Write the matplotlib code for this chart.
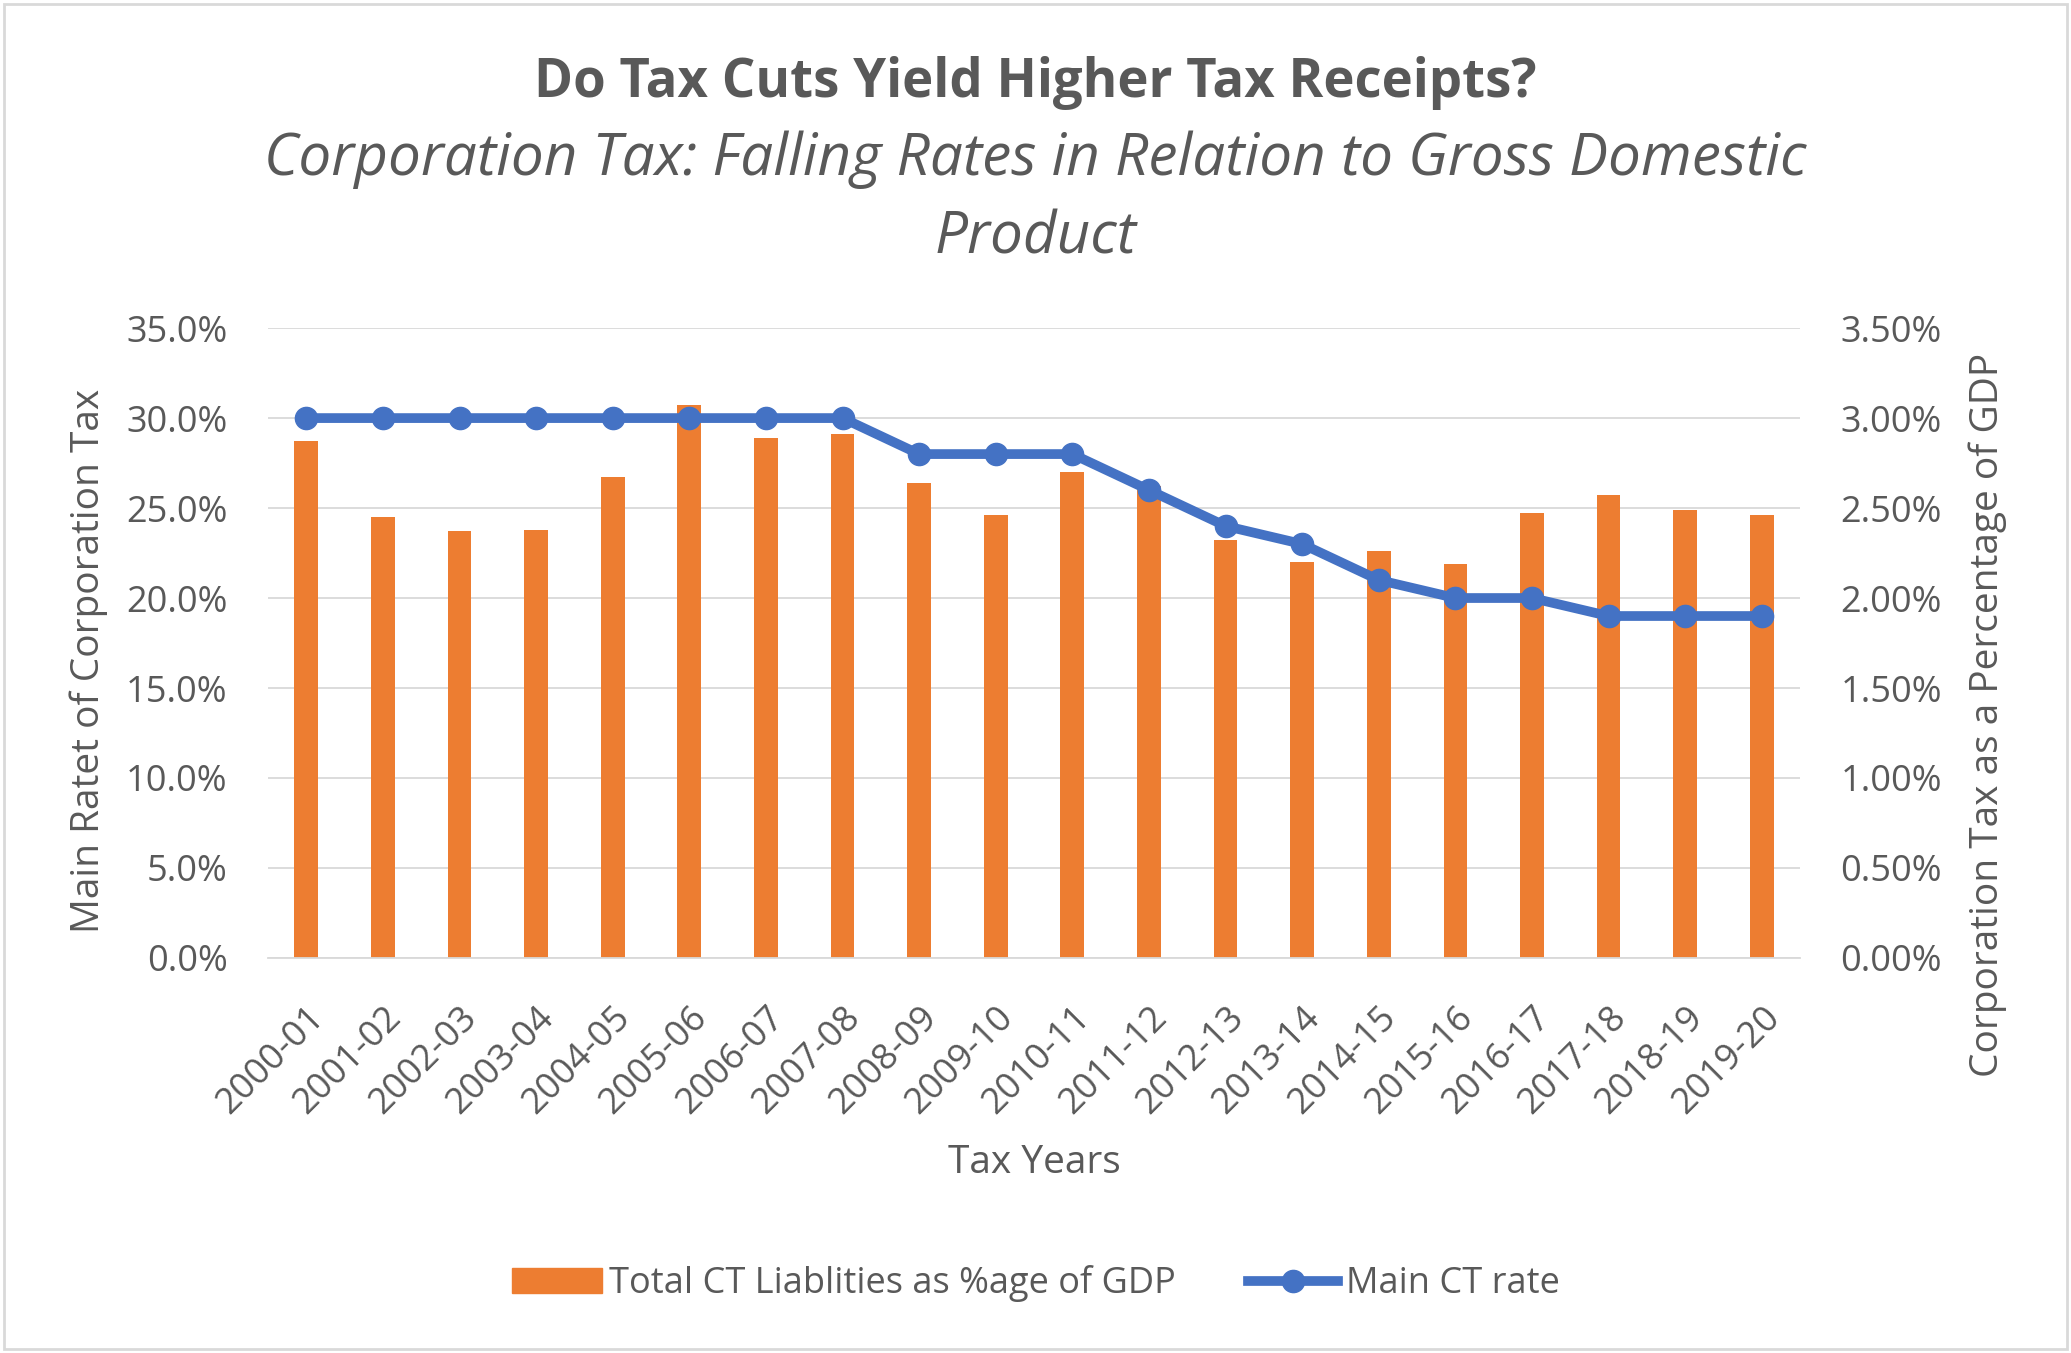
import numpy as np
import matplotlib
matplotlib.use("Agg")
import matplotlib.pyplot as plt
from matplotlib.lines import Line2D
from matplotlib.patches import Patch, Rectangle
from matplotlib.ticker import FuncFormatter, MultipleLocator

plt.rcParams['font.family'] = ['Open Sans', 'DejaVu Sans']

tax_years = ['2000-01', '2001-02', '2002-03', '2003-04', '2004-05', '2005-06',
             '2006-07', '2007-08', '2008-09', '2009-10', '2010-11', '2011-12',
             '2012-13', '2013-14', '2014-15', '2015-16', '2016-17', '2017-18',
             '2018-19', '2019-20']
# main corporation tax rate (%)
main_ct_rate = [30, 30, 30, 30, 30, 30, 30, 30, 28, 28, 28, 26, 24, 23, 21,
                20, 20, 19, 19, 19]
# total CT liabilities as % of GDP
ct_liab_gdp = [2.87, 2.45, 2.37, 2.38, 2.67, 3.07, 2.89, 2.91, 2.64, 2.46,
               2.70, 2.62, 2.32, 2.20, 2.26, 2.19, 2.47, 2.57, 2.49, 2.46]

grey = '#595959'
orange = '#ED7D31'
blue = '#4472C4'

fig = plt.figure(figsize=(20.71, 13.53), dpi=100)
fig.patches.append(Rectangle((0.002, 0.003), 0.996, 0.994, transform=fig.transFigure,
                             fill=False, edgecolor='#D9D9D9', lw=2))

ax = fig.add_axes([0.1294, 0.292, 0.7398, 0.4655])
ax2 = ax.twinx()
# line on top of the bars
ax.set_zorder(ax2.get_zorder() + 1)
ax.patch.set_visible(False)

x = np.arange(len(tax_years))
ax2.bar(x, ct_liab_gdp, width=0.31, color=orange, zorder=2)
ax2.set_axisbelow(True)
ax2.yaxis.grid(True, color='#D9D9D9', lw=1.3)
ax.plot(x, main_ct_rate, color=blue, lw=7, marker='o', markersize=16, zorder=3)

ax.set_xlim(-0.5, len(x) - 0.5)
ax.set_ylim(0, 35)
ax2.set_ylim(0, 3.5)
ax.yaxis.set_major_locator(MultipleLocator(5))
ax2.yaxis.set_major_locator(MultipleLocator(0.5))
ax.yaxis.set_major_formatter(FuncFormatter(lambda v, p: f'{v:.1f}%'))
ax2.yaxis.set_major_formatter(FuncFormatter(lambda v, p: f'{v:.2f}%'))

ax.set_xticks(x)
ax.set_xticklabels(tax_years, rotation=45, ha='right', rotation_mode='anchor')

for a in (ax, ax2):
    for s in a.spines.values():
        s.set_visible(False)
    a.tick_params(length=0, labelsize=26, colors=grey, pad=29)
ax.tick_params(axis='x', pad=30)
ax2.spines['bottom'].set_visible(True)
ax2.spines['bottom'].set_color('#D9D9D9')
ax2.spines['bottom'].set_linewidth(1.3)

ax.set_xlabel('Tax Years', fontsize=28, color=grey, va='center')
ax.xaxis.set_label_coords(0.5, -0.326)
ax.set_ylabel('Main Ratet of Corporation Tax', fontsize=28, color=grey, va='center')
ax.yaxis.set_label_coords(-0.117, 0.472)
ax2.set_ylabel('Corporation Tax as a Percentage of GDP', fontsize=28, color=grey,
               va='center')
ax2.yaxis.set_label_coords(1.1227, 0.386)

fig.text(0.5, 0.939, 'Do Tax Cuts Yield Higher Tax Receipts?', ha='center', va='center',
         fontsize=38, fontweight='bold', color=grey)
fig.text(0.5, 0.882, 'Corporation Tax: Falling Rates in Relation to Gross Domestic',
         ha='center', va='center', fontsize=42, style='italic', color=grey)
fig.text(0.5, 0.824, 'Product', ha='center', va='center', fontsize=42,
         style='italic', color=grey)

handles = [Patch(color=orange),
           Line2D([0], [0], color=blue, lw=7, marker='o', markersize=16)]
labels = ['Total CT Liablities as %age of GDP', 'Main CT rate']
fig.legend(handles, labels, loc='center', bbox_to_anchor=(0.5, 0.051), ncol=2,
           frameon=False, fontsize=26, labelcolor=grey, columnspacing=2,
           handlelength=2.5, handletextpad=0.2)

fig.savefig('out.png', dpi=100)
